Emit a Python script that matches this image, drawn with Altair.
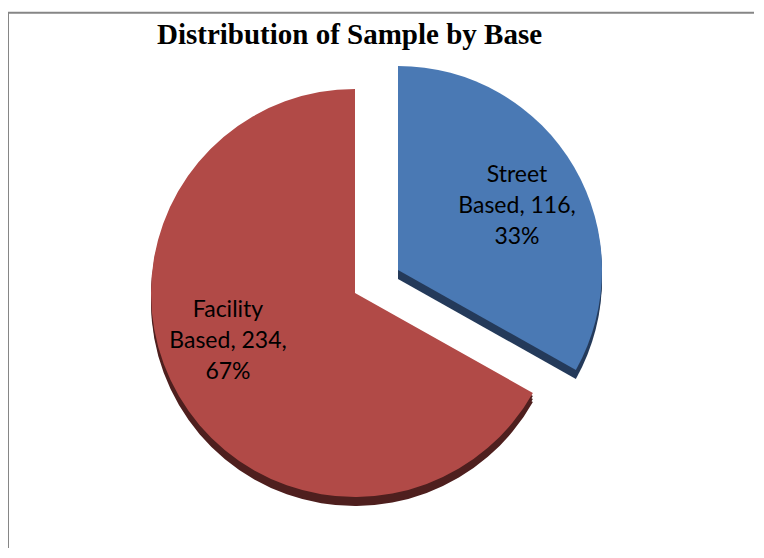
import altair as alt
import pandas as pd

# ---- data ----
categories = ["Street Based", "Facility Based"]
counts = [116, 234]
percents = [33, 67]
order = [0, 1]
title_text = "Distribution of Sample by Base"

top_colors = ["#4A79B4", "#B14A47"]
edge_colors = ["#243A5A", "#4E1F1E"]

labels = []
for cat, c, p in zip(categories, counts, percents):
    w = cat.split(" ")
    labels.append(f"{w[0]}\n{w[1]}, {c},\n{p}%")

df = pd.DataFrame({"category": categories, "count": counts, "pct": percents,
                   "order": order, "label": labels})

# layout (chart coordinates, page minus 8px margin)
R = 204
DEPTH = 9
centers = {"Street Based": (390, 262), "Facility Based": (347, 285)}
label_pos = {"Street Based": (509, 174), "Facility Based": (220, 309)}

base = (
    alt.Chart(df)
    .transform_joinaggregate(total="sum(count)")
    .transform_window(cum="sum(count)", sort=[alt.SortField("order")], frame=[None, 0])
    .transform_calculate(
        t0="(datum.cum - datum.count) / datum.total * 2 * PI",
        t1="datum.cum / datum.total * 2 * PI",
    )
)

layers = []
# extrusion (dark edges) first
for cat, ec in zip(categories, edge_colors):
    cx, cy = centers[cat]
    for d in (3, 6, DEPTH):
        layers.append(
            base.transform_filter(alt.datum.category == cat)
            .mark_arc(radius=R, color=ec)
            .encode(theta=alt.Theta("t0:Q", scale=None), theta2="t1:Q",
                    x=alt.value(cx), y=alt.value(cy + d))
        )
# top surfaces
for cat, tc in zip(categories, top_colors):
    cx, cy = centers[cat]
    layers.append(
        base.transform_filter(alt.datum.category == cat)
        .mark_arc(radius=R, color=tc)
        .encode(theta=alt.Theta("t0:Q", scale=None), theta2="t1:Q",
                x=alt.value(cx), y=alt.value(cy))
    )
# labels
for cat in categories:
    lx, ly = label_pos[cat]
    layers.append(
        alt.Chart(df).transform_filter(alt.datum.category == cat)
        .mark_text(font="Lato", fontSize=23, color="#000000", align="center",
                   baseline="alphabetic", lineBreak="\n", lineHeight=31)
        .encode(text="label:N", x=alt.value(lx), y=alt.value(ly))
    )

one = pd.DataFrame({"t": [title_text]})
title = alt.Chart(one).mark_text(font="Liberation Serif", fontSize=29, fontWeight="bold",
                                 color="#000000", align="center", baseline="alphabetic").encode(
    text="t:N", x=alt.value(341.5), y=alt.value(36))

frame_v = alt.Chart(one).mark_rule(color="#868686", strokeWidth=2).encode(
    x=alt.value(0), y=alt.value(4), y2=alt.value(540))
frame_h = alt.Chart(one).mark_rule(color="#868686", strokeWidth=2).encode(
    x=alt.value(0), x2=alt.value(746), y=alt.value(4.7))

chart = alt.layer(frame_v, frame_h, *layers, title).properties(
    width=746, height=540, padding=0, autosize="none"
).configure_view(stroke=None)

chart.save("out.html", embed_options={"renderer": "svg", "actions": False})
